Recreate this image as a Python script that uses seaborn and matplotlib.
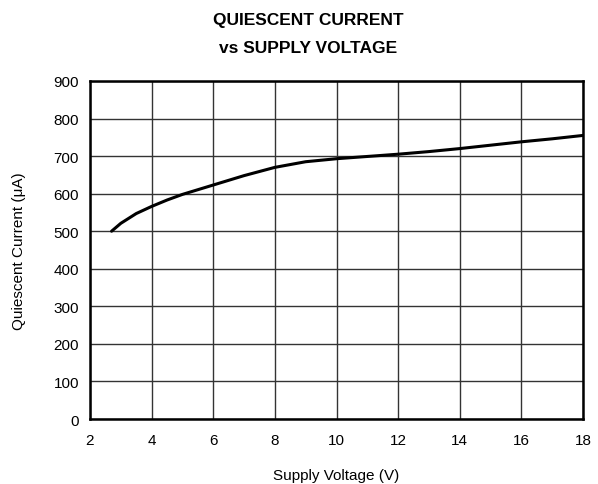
import numpy as np
import pandas as pd
import matplotlib
matplotlib.use("Agg")
import matplotlib.pyplot as plt
import seaborn as sns

# ── Data ──────────────────────────────────────────────────────────────────────
supply_v = [2.7, 3.0, 3.5, 4.0, 4.5, 5.0, 6.0, 7.0, 8.0, 9.0, 10.0,
            11.0, 12.0, 13.0, 14.0, 15.0, 16.0, 17.0, 18.0]
iq_ua = [500, 521, 547, 566, 583, 598, 623, 648, 670, 685, 693,
         699, 705, 712, 720, 729, 738, 746, 755]

x_ticks = [2, 4, 6, 8, 10, 12, 14, 16, 18]
y_ticks = [0, 100, 200, 300, 400, 500, 600, 700, 800, 900]

df = pd.DataFrame({"V": supply_v, "I": iq_ua})

sns.set_style("white")
plt.rcParams["font.family"] = ["Liberation Sans", "DejaVu Sans"]
plt.rcParams["text.color"] = "black"
plt.rcParams["axes.labelcolor"] = "black"

fig = plt.figure(figsize=(5.98, 4.85), dpi=100)
ax = fig.add_axes([0.1505, 0.134, 0.8245, 0.697])

sns.lineplot(data=df, x="V", y="I", ax=ax, color="black", linewidth=2.2)
ax.lines[0].set_solid_joinstyle("round")

ax.set_xlim(2, 18)
ax.set_ylim(0, 900)
ax.set_xticks(x_ticks)
ax.set_yticks(y_ticks)
ax.grid(True, color="#333333", linewidth=1.0)
ax.tick_params(length=0, labelsize=11, colors="black")
ax.tick_params(axis="x", pad=10)
ax.tick_params(axis="y", pad=8)
for sp in ax.spines.values():
    sp.set_visible(True)
    sp.set_color("black")
    sp.set_linewidth(1.8)

ax.set_xlabel("Supply Voltage (V)", fontsize=11, labelpad=15)
ax.set_ylabel("Quiescent Current (\u03bcA)", fontsize=11, labelpad=20)
fig.text(0.515, 0.929, "QUIESCENT CURRENT\nvs SUPPLY VOLTAGE", ha="center", va="center",
         fontsize=12.5, fontweight="bold", linespacing=2.07)

fig.savefig("out.png", dpi=100)
